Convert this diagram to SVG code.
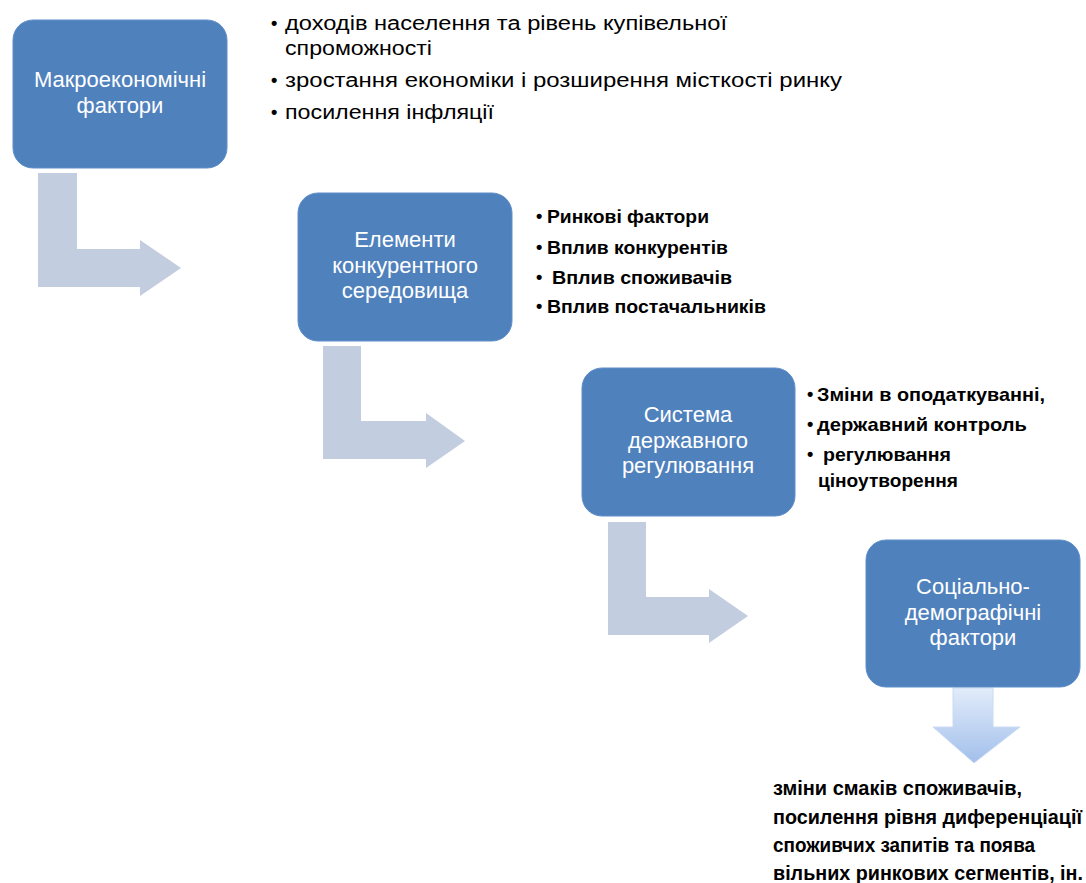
<svg xmlns="http://www.w3.org/2000/svg" width="1086" height="883" viewBox="0 0 1086 883">
<style>
.box{fill:#4f81bd;stroke:#5f8fca;stroke-width:1}
.bt{font-family:"Liberation Sans",Arial,sans-serif;font-size:22px;fill:#ffffff;text-anchor:middle}
.arr{fill:#c3cde0}
.l1{font-family:"Liberation Sans",Arial,sans-serif;font-size:20px;fill:#000000}
.l2{font-family:"Liberation Sans",Arial,sans-serif;font-size:19px;fill:#000000;font-weight:bold}
.bu{font-family:"Liberation Sans",Arial,sans-serif;font-size:18px;fill:#000000;font-weight:bold}
.bot{font-family:"Liberation Sans",Arial,sans-serif;font-size:20px;fill:#000000;font-weight:bold}
</style>
<defs>
<linearGradient id="dg" x1="0" y1="0" x2="0" y2="1">
<stop offset="0" stop-color="#e2ecfa"/>
<stop offset="1" stop-color="#a2bfeb"/>
</linearGradient>
</defs>
<rect width="1086" height="883" fill="#ffffff"/>
<g id="connectors">
<path class="arr" d="M38,173 H77 V249 H140 V240 L181,268 L140,296 V287 H38 Z"/>
<path class="arr" d="M323,346 H361 V421 H426 V413 L465,441 L426,468 V459 H323 Z"/>
<path class="arr" d="M608,522 H646 V597 H709 V589 L748,616 L709,643 V635 H608 Z"/>
<path d="M953,688 H993 V727 H1020 L974,763 L933,727 H953 Z" fill="url(#dg)" stroke="#c9daf3" stroke-width="1"/>
</g>
<g id="node1">
<rect class="box" x="13" y="20" width="214" height="148" rx="20"/>
<text class="bt" x="120" y="87">Макроекономічні</text>
<text class="bt" x="120" y="113">фактори</text>
</g>
<g id="list1">
<text class="bu" x="271" y="29">•</text>
<text class="l1" x="285" y="30" textLength="442" lengthAdjust="spacingAndGlyphs">доходів населення та рівень купівельної</text>
<text class="l1" x="285" y="55" textLength="147" lengthAdjust="spacingAndGlyphs">спроможності</text>
<text class="bu" x="271" y="86">•</text>
<text class="l1" x="285" y="87" textLength="557" lengthAdjust="spacingAndGlyphs">зростання  економіки і розширення місткості ринку</text>
<text class="bu" x="271" y="118">•</text>
<text class="l1" x="285" y="119" textLength="209" lengthAdjust="spacingAndGlyphs">посилення інфляції</text>
</g>
<g id="node2">
<rect class="box" x="298" y="193" width="214" height="148" rx="20"/>
<text class="bt" x="405" y="247">Елементи</text>
<text class="bt" x="405" y="273">конкурентного</text>
<text class="bt" x="405" y="298">середовища</text>
</g>
<g id="list2">
<text class="bu" x="536" y="222">•</text>
<text class="l2" x="547" y="223" textLength="162" lengthAdjust="spacingAndGlyphs">Ринкові фактори</text>
<text class="bu" x="536" y="253">•</text>
<text class="l2" x="547" y="254" textLength="181" lengthAdjust="spacingAndGlyphs">Вплив конкурентів</text>
<text class="bu" x="536" y="283">•</text>
<text class="l2" x="552" y="284" textLength="180" lengthAdjust="spacingAndGlyphs">Вплив споживачів</text>
<text class="bu" x="536" y="312">•</text>
<text class="l2" x="547" y="313" textLength="219" lengthAdjust="spacingAndGlyphs">Вплив постачальників</text>
</g>
<g id="node3">
<rect class="box" x="582" y="368" width="213" height="148" rx="20"/>
<text class="bt" x="688" y="422">Система</text>
<text class="bt" x="688" y="448">державного</text>
<text class="bt" x="688" y="473">регулювання</text>
</g>
<g id="list3">
<text class="bu" x="807" y="400">•</text>
<text class="l2" x="817" y="401" textLength="228" lengthAdjust="spacingAndGlyphs">Зміни в оподаткуванні,</text>
<text class="bu" x="807" y="430">•</text>
<text class="l2" x="817" y="431" textLength="210" lengthAdjust="spacingAndGlyphs">державний контроль</text>
<text class="bu" x="807" y="460">•</text>
<text class="l2" x="823" y="461" textLength="128" lengthAdjust="spacingAndGlyphs">регулювання</text>
<text class="l2" x="818" y="487" textLength="140" lengthAdjust="spacingAndGlyphs">ціноутворення</text>
</g>
<g id="node4">
<rect class="box" x="866" y="540" width="214" height="147" rx="20"/>
<text class="bt" x="973" y="594">Соціально-</text>
<text class="bt" x="973" y="620">демографічні</text>
<text class="bt" x="973" y="645">фактори</text>
</g>
<g id="result">
<text class="bot" x="773" y="795" textLength="249" lengthAdjust="spacingAndGlyphs">зміни смаків споживачів,</text>
<text class="bot" x="773" y="824" textLength="309" lengthAdjust="spacingAndGlyphs">посилення рівня диференціації</text>
<text class="bot" x="773" y="852" textLength="262" lengthAdjust="spacingAndGlyphs">споживчих запитів та поява</text>
<text class="bot" x="773" y="880" textLength="310" lengthAdjust="spacingAndGlyphs">вільних ринкових сегментів, ін.</text>
</g>
</svg>
